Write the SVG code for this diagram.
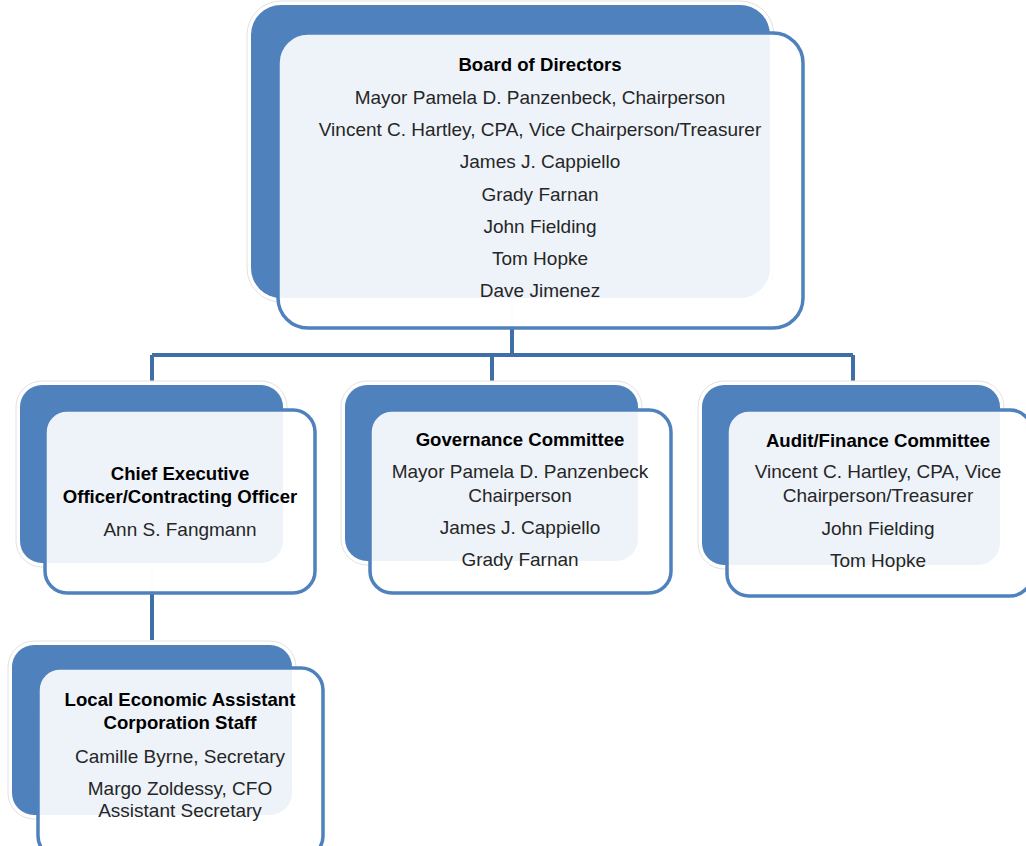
<svg xmlns="http://www.w3.org/2000/svg" width="1026" height="846" viewBox="0 0 1026 846">
<style>
.halo{fill:#fff;stroke:#e2e2e2;stroke-width:1}
.back{fill:#4f81bd}
.front{fill:#fff;fill-opacity:0.9;stroke:#4f81bd;stroke-width:3.5}
.conn{fill:none;stroke:#3f6fa6;stroke-width:4}
text{font-family:"Liberation Sans",Arial,sans-serif;font-size:19px;fill:#262626;text-anchor:middle}
.b{font-weight:bold;fill:#000;font-size:18.6px}
</style>
<rect width="1026" height="846" fill="#fff"/>
<g id="connectors">
<path class="conn" d="M512 328 V355 M152 355 H853 M492 355 V381 M152 355 V381 M853 355 V381 M152 593 V640"/>
<path d="M512 305 V327" stroke="#dfe7f1" stroke-width="4"/>
<path d="M152 568 V591" stroke="#dfe7f1" stroke-width="4"/>
</g>
<g id="board">
<rect class="halo" x="247" y="1" width="527" height="301" rx="34"/>
<rect class="back" x="251" y="5" width="519" height="293" rx="30"/>
<rect class="front" x="278" y="33" width="525" height="295" rx="30"/>
<text class="b" x="540" y="71">Board of Directors</text>
<text x="540" y="104">Mayor Pamela D. Panzenbeck, Chairperson</text>
<text x="540" y="136">Vincent C. Hartley, CPA, Vice Chairperson/Treasurer</text>
<text x="540" y="168">James J. Cappiello</text>
<text x="540" y="201">Grady Farnan</text>
<text x="540" y="233">John Fielding</text>
<text x="540" y="265">Tom Hopke</text>
<text x="540" y="297">Dave Jimenez</text>
</g>
<g id="ceo">
<rect class="halo" x="16" y="381" width="271" height="186" rx="26"/>
<rect class="back" x="20" y="385" width="263" height="178" rx="22"/>
<rect class="front" x="45" y="410" width="270" height="183" rx="22"/>
<text class="b" x="180" y="480">Chief Executive</text>
<text class="b" x="180" y="503">Officer/Contracting Officer</text>
<text x="180" y="536">Ann S. Fangmann</text>
</g>
<g id="governance">
<rect class="halo" x="341" y="381" width="301" height="184" rx="26"/>
<rect class="back" x="345" y="385" width="293" height="176" rx="22"/>
<rect class="front" x="370" y="410" width="301" height="183" rx="22"/>
<text class="b" x="520" y="446">Governance Committee</text>
<text x="520" y="478">Mayor Pamela D. Panzenbeck</text>
<text x="520" y="502">Chairperson</text>
<text x="520" y="534">James J. Cappiello</text>
<text x="520" y="566">Grady Farnan</text>
</g>
<g id="audit">
<rect class="halo" x="698" y="381" width="306" height="188" rx="26"/>
<rect class="back" x="702" y="385" width="298" height="180" rx="22"/>
<rect class="front" x="727" y="410" width="305" height="186" rx="22"/>
<text class="b" x="878" y="447">Audit/Finance Committee</text>
<text x="878" y="478">Vincent C. Hartley, CPA, Vice</text>
<text x="878" y="502">Chairperson/Treasurer</text>
<text x="878" y="535">John Fielding</text>
<text x="878" y="567">Tom Hopke</text>
</g>
<g id="staff">
<rect class="halo" x="8" y="641" width="288" height="178" rx="26"/>
<rect class="back" x="12" y="645" width="280" height="170" rx="22"/>
<rect class="front" x="38" y="668" width="285" height="190" rx="22"/>
<text class="b" x="180" y="706">Local Economic Assistant</text>
<text class="b" x="180" y="729">Corporation Staff</text>
<text x="180" y="763">Camille Byrne, Secretary</text>
<text x="180" y="795">Margo Zoldessy, CFO</text>
<text x="180" y="817">Assistant Secretary</text>
</g>
</svg>
